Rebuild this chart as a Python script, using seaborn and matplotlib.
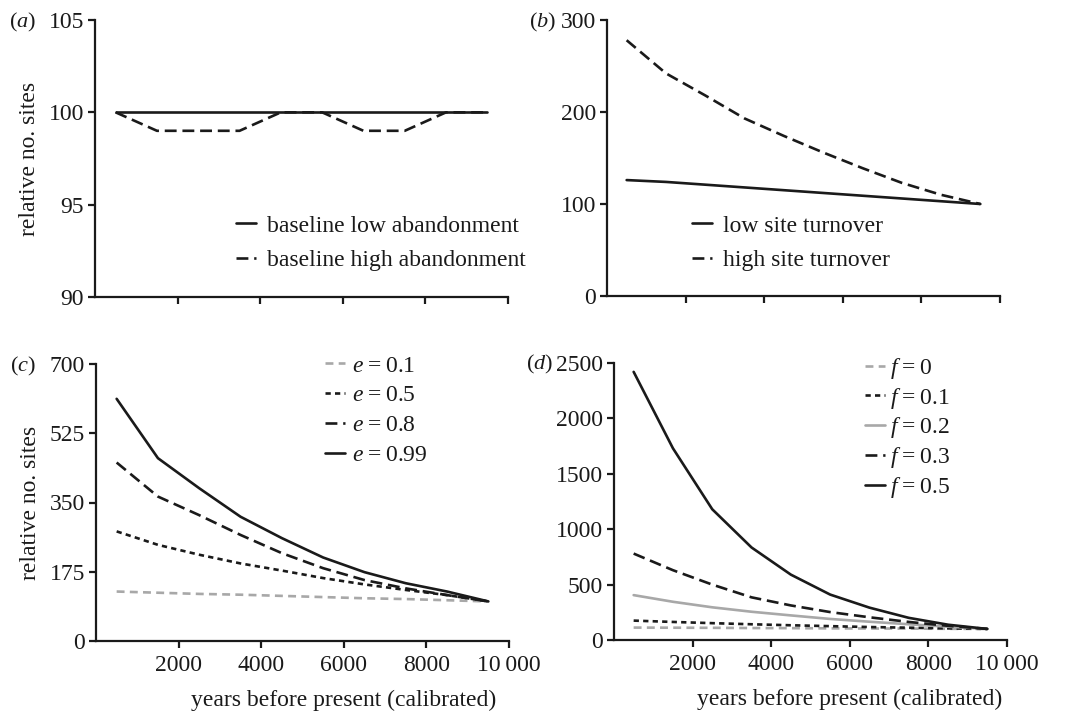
import numpy as np
import pandas as pd
import matplotlib
matplotlib.use("Agg")
import matplotlib.pyplot as plt
import seaborn as sns

# ---- data ----
years = [500, 1500, 2500, 3500, 4500, 5500, 6500, 7500, 8500, 9500]

a_low = [100, 100, 100, 100, 100, 100, 100, 100, 100, 100]
a_high = [100, 99, 99, 99, 100, 100, 99, 99, 100, 100]

b_low = [126, 124, 121, 118, 115, 112, 109, 106, 103, 100]
b_high = [278, 242, 218, 193, 174, 156, 139, 123, 110, 100]

c_e01 = [125, 122, 119, 117, 114, 111, 108, 106, 103, 100]
c_e05 = [277, 243, 218, 196, 178, 159, 143, 129, 116, 100]
c_e08 = [451, 365, 318, 268, 222, 184, 154, 133, 116, 100]
c_e099 = [612, 462, 386, 314, 260, 211, 174, 146, 125, 100]

d_f0 = [112, 111, 110, 108, 107, 105, 104, 103, 101, 100]
d_f01 = [175, 163, 152, 142, 133, 125, 117, 111, 105, 100]
d_f02 = [405, 345, 295, 255, 222, 190, 165, 142, 120, 100]
d_f03 = [780, 630, 500, 385, 312, 252, 205, 163, 128, 100]
d_f05 = [2420, 1730, 1180, 835, 590, 410, 292, 200, 138, 100]

a_labels = ["baseline low abandonment", "baseline high abandonment"]
b_labels = ["low site turnover", "high site turnover"]
c_labels = ["$e$\u2009=\u20090.1", "$e$\u2009=\u20090.5", "$e$\u2009=\u20090.8", "$e$\u2009=\u20090.99"]
d_labels = ["$f$\u2009=\u20090", "$f$\u2009=\u20090.1", "$f$\u2009=\u20090.2", "$f$\u2009=\u20090.3", "$f$\u2009=\u20090.5"]

x_ticks = [2000, 4000, 6000, 8000, 10000]
x_ticklabels = ["2000", "4000", "6000", "8000", "10\u2009000"]
a_yticks = [90, 95, 100, 105]
b_yticks = [0, 100, 200, 300]
c_yticks = [0, 175, 350, 525, 700]
d_yticks = [0, 500, 1000, 1500, 2000, 2500]

# ---- style ----
sns.set_style("ticks")
plt.rcParams["font.family"] = ["Liberation Serif", "DejaVu Serif"]
plt.rcParams["mathtext.fontset"] = "custom"
plt.rcParams["mathtext.rm"] = "Liberation Serif"
plt.rcParams["mathtext.it"] = "Liberation Serif:italic"
FS = 17

BLACK = "#1a1a1a"
GREY = "#a8a8a8"
SOLID = "-"
DASH = (0, (4.5, 2.2))
DOT = (0, (2.0, 1.6))
GDASH = (0, (3.0, 2.0))
LW = 1.9

fig = plt.figure(figsize=(10.7, 7.13), dpi=100)
W, H = 1070, 713


def add_ax(x0, x1, ytop, ybot):
    return fig.add_axes([x0 / W, 1 - ybot / H, (x1 - x0) / W, (ybot - ytop) / H])


ax_a = add_ax(95, 508, 20, 297)
ax_b = add_ax(607, 1000, 20, 296)
ax_c = add_ax(96, 509, 364, 641)
ax_d = add_ax(614, 1007, 363, 640)


def draw(ax, series, labels, styles, colors):
    for vals, lab, ls, col in zip(series, labels, styles, colors):
        df = pd.DataFrame({"year": years, "sites": vals})
        sns.lineplot(data=df, x="year", y="sites", ax=ax, color=col,
                     linestyle=ls, linewidth=LW, label=lab)


draw(ax_a, [a_low, a_high], a_labels, [SOLID, DASH], [BLACK, BLACK])
draw(ax_b, [b_low, b_high], b_labels, [SOLID, DASH], [BLACK, BLACK])
draw(ax_c, [c_e01, c_e05, c_e08, c_e099], c_labels,
     [GDASH, DOT, DASH, SOLID], [GREY, BLACK, BLACK, BLACK])
draw(ax_d, [d_f0, d_f01, d_f02, d_f03, d_f05], d_labels,
     [GDASH, DOT, SOLID, DASH, SOLID], [GREY, BLACK, GREY, BLACK, BLACK])

for ax, yt, bottom in [(ax_a, a_yticks, False), (ax_b, b_yticks, False),
                       (ax_c, c_yticks, True), (ax_d, d_yticks, True)]:
    ax.set_xlim(0, 10000)
    ax.set_ylim(yt[0], yt[-1])
    ax.set_yticks(yt)
    ax.set_yticklabels([str(v) for v in yt])
    ax.set_xticks(x_ticks)
    if bottom:
        ax.set_xticklabels(x_ticklabels)
    else:
        ax.set_xticklabels([])
    sns.despine(ax=ax)
    for s in ("left", "bottom"):
        ax.spines[s].set_linewidth(1.6)
        ax.spines[s].set_color(BLACK)
    ax.tick_params(axis="both", direction="out", length=5, width=1.6,
                   color=BLACK, labelsize=FS, labelcolor=BLACK, pad=3)
    ax.tick_params(axis="x", pad=5)
    ax.set_xlabel("")
    ax.set_ylabel("")

for ax in (ax_a, ax_c):
    ax.set_ylabel("relative no. sites", fontsize=FS, color=BLACK)
    ax.yaxis.set_label_coords(-0.133, 0.5)
for ax in (ax_c, ax_d):
    ax.text(0.60, -0.215, "years before present (calibrated)", fontsize=FS,
            color=BLACK, ha="center", va="center", transform=ax.transAxes)

leg_kw = dict(frameon=False, fontsize=FS, handlelength=0.85,
              borderaxespad=0, borderpad=0, loc="upper left")
ax_a.legend(bbox_to_anchor=(236 / W, 1 - 215 / H), bbox_transform=fig.transFigure,
            labelspacing=0.55, handletextpad=0.45, **leg_kw)
ax_b.legend(bbox_to_anchor=(692 / W, 1 - 215 / H), bbox_transform=fig.transFigure,
            labelspacing=0.55, handletextpad=0.45, **leg_kw)
ax_c.legend(bbox_to_anchor=(325 / W, 1 - 355 / H), bbox_transform=fig.transFigure,
            labelspacing=0.35, handletextpad=0.3, **leg_kw)
ax_d.legend(bbox_to_anchor=(865 / W, 1 - 356 / H), bbox_transform=fig.transFigure,
            labelspacing=0.2, handletextpad=0.2, **leg_kw)
for ax in (ax_a, ax_b, ax_c, ax_d):
    for t in ax.get_legend().get_texts():
        t.set_color(BLACK)

for lab, x, y in [("a", 23, 22), ("b", 543, 22), ("c", 23, 366), ("d", 540, 364)]:
    fig.text(x / W, 1 - y / H, "(" + "$" + lab + "$" + ")", fontsize=FS - 1,
             color=BLACK, ha="center", va="center")

fig.savefig("out.png", dpi=100)
